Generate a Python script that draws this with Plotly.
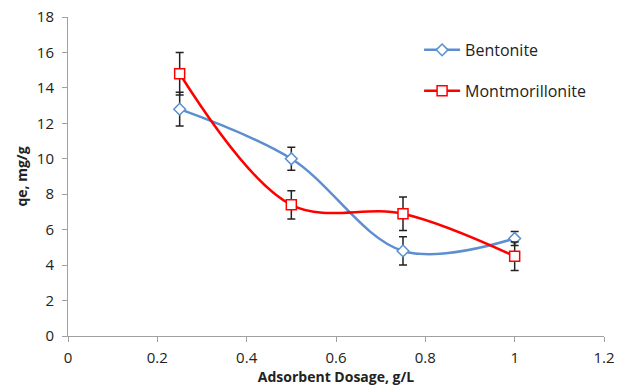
import plotly.graph_objects as go

# Adsorbent dosage (g/L) and equilibrium uptake qe (mg/g)
dosage = [0.25, 0.5, 0.75, 1.0]
bentonite_qe = [12.8, 10.0, 4.8, 5.5]
bentonite_err = [0.95, 0.65, 0.8, 0.4]
montmorillonite_qe = [14.8, 7.4, 6.9, 4.5]
montmorillonite_err = [1.2, 0.8, 0.95, 0.8]

x_ticks = [0, 0.2, 0.4, 0.6, 0.8, 1.0, 1.2]
x_tick_text = ["0", "0.2", "0.4", "0.6", "0.8", "1", "1.2"]
y_ticks = [0, 2, 4, 6, 8, 10, 12, 14, 16, 18]

font_family = "Open Sans, Liberation Sans, sans-serif"

fig = go.Figure()

fig.add_trace(go.Scatter(
    x=dosage, y=bentonite_qe, name="Bentonite",
    mode="lines+markers", legendgroup="b",
    line=dict(color="#5B8FD0", width=2.5, shape="spline", smoothing=1.0),
    marker=dict(symbol="diamond", size=9, color="white",
                line=dict(color="#5B8FD0", width=1.5)),
    error_y=dict(type="data", array=bentonite_err, visible=True,
                 color="#222222", thickness=1.5, width=4),
))

fig.add_trace(go.Scatter(
    x=dosage, y=montmorillonite_qe, name="Montmorillonite",
    mode="lines+markers", legendgroup="m",
    line=dict(color="#FF0000", width=2.5, shape="spline", smoothing=1.0),
    marker=dict(symbol="square", size=10, color="white",
                line=dict(color="#FF0000", width=1.5)),
    error_y=dict(type="data", array=montmorillonite_err, visible=True,
                 color="#222222", thickness=1.5, width=4),
))

axis_common = dict(
    showgrid=False, zeroline=False, showline=True,
    linecolor="#A0A0A0", linewidth=1, automargin=False,
    ticks="outside", tickcolor="#A0A0A0", ticklen=5,
    tickfont=dict(family=font_family, size=15, color="#222222"),
)

fig.update_layout(
    width=618, height=387,
    margin=dict(l=68, r=14, t=17, b=51),
    paper_bgcolor="white", plot_bgcolor="white",
    font=dict(family=font_family, color="#222222"),
    showlegend=True,
    legend=dict(
        x=0.655, y=0.95, xanchor="left", yanchor="top",
        font=dict(family=font_family, size=16, color="#222222"),
        bgcolor="rgba(0,0,0,0)", tracegroupgap=17, itemwidth=36,
    ),
    xaxis=dict(
        range=[0, 1.2], tickvals=x_ticks, ticktext=x_tick_text,
        ticklabelstandoff=3,
        title=dict(text="<b>Adsorbent Dosage, g/L</b>", standoff=4,
                   font=dict(family=font_family, size=14, color="#222222")),
        **axis_common,
    ),
    yaxis=dict(
        range=[0, 18], tickvals=y_ticks,
        ticklabelstandoff=5,
        title=dict(text="<b>qe, mg/g</b>", standoff=5,
                   font=dict(family=font_family, size=14, color="#222222")),
        **axis_common,
    ),
)

fig.write_html("out.html")
